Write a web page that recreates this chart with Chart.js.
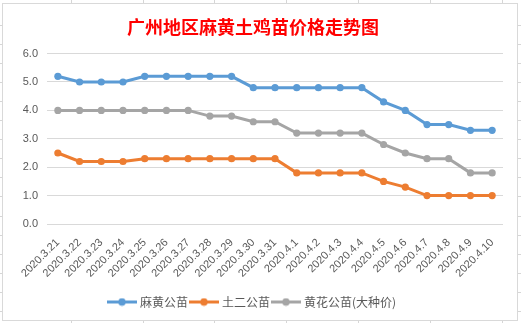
<!DOCTYPE html>
<html>
<head>
<meta charset="utf-8">
<script src="https://cdn.jsdelivr.net/npm/chart.js@4/dist/chart.umd.min.js"></script>
<style>
  html, body { margin: 0; padding: 0; }
  body { width: 521px; height: 323px; position: relative; overflow: hidden; background: #ffffff; }
  .hline { position: absolute; left: 0; width: 521px; height: 1px; background: #d6d6d6; }
  .vline { position: absolute; top: 0; width: 1px; height: 323px; background: #d6d6d6; }
  #box {
    position: absolute; left: 2px; top: 3px; width: 516px; height: 318px;
    box-sizing: border-box; border: 1px solid #d9d9d9; background: #fff;
  }
  #box canvas { display: block; }
</style>
</head>
<body>
<div id="grid"></div>
<div id="box"><canvas id="c" width="514" height="316"></canvas></div>
<script>
const categories = ['2020.3.21','2020.3.22','2020.3.23','2020.3.24','2020.3.25','2020.3.26','2020.3.27','2020.3.28','2020.3.29','2020.3.30','2020.3.31','2020.4.1','2020.4.2','2020.4.3','2020.4.4','2020.4.5','2020.4.6','2020.4.7','2020.4.8','2020.4.9','2020.4.10'];
const mahuang = [5.2,5.0,5.0,5.0,5.2,5.2,5.2,5.2,5.2,4.8,4.8,4.8,4.8,4.8,4.8,4.3,4.0,3.5,3.5,3.3,3.3];
const tuer = [2.5,2.2,2.2,2.2,2.3,2.3,2.3,2.3,2.3,2.3,2.3,1.8,1.8,1.8,1.8,1.5,1.3,1.0,1.0,1.0,1.0];
const huanghua = [4.0,4.0,4.0,4.0,4.0,4.0,4.0,3.8,3.8,3.6,3.6,3.2,3.2,3.2,3.2,2.8,2.5,2.3,2.3,1.8,1.8];
const seriesNames = ['麻黄公苗','土二公苗','黄花公苗(大种价)'];
const titleText = '广州地区麻黄土鸡苗价格走势图';
const colors = ['#5B9BD5','#ED7D31','#A5A5A5'];

// spreadsheet gridlines behind the chart
const grid = document.getElementById('grid');
[71,143,214,286,358,430,502].forEach(x => {
  const d = document.createElement('div'); d.className = 'vline'; d.style.left = x + 'px'; grid.appendChild(d);
});
for (let k = 0; k < 17; k++) {
  const d = document.createElement('div'); d.className = 'hline'; d.style.top = Math.round(25 + 19.05 * k) + 'px'; grid.appendChild(d);
}

function legendIcon(color) {
  const cv = document.createElement('canvas');
  cv.width = 30; cv.height = 9;
  const g = cv.getContext('2d');
  g.strokeStyle = color; g.lineWidth = 3;
  g.beginPath(); g.moveTo(0, 4.5); g.lineTo(30, 4.5); g.stroke();
  g.fillStyle = color; g.beginPath(); g.arc(15, 4.5, 3.8, 0, Math.PI * 2); g.fill();
  return cv;
}
const icons = colors.map(legendIcon);

const seriesData = [mahuang, tuer, huanghua];
const datasets = seriesNames.map((n, i) => ({
  label: n,
  data: seriesData[i],
  borderColor: colors[i],
  backgroundColor: colors[i],
  borderWidth: 3,
  pointRadius: 3.6,
  pointBorderWidth: 0,
  pointBackgroundColor: colors[i],
  tension: 0,
  fill: false
}));

new Chart(document.getElementById('c'), {
  type: 'line',
  data: { labels: categories, datasets },
  options: {
    responsive: false,
    animation: false,
    devicePixelRatio: 1,
    layout: { padding: { left: 0, right: 14, top: 0, bottom: 2 } },
    plugins: {
      title: {
        display: true, text: titleText, color: '#FF0000',
        font: { family: '"Noto Sans CJK SC", sans-serif', size: 18, weight: 'bold' },
        padding: { top: 12, bottom: 16 }
      },
      legend: {
        position: 'bottom',
        labels: {
          usePointStyle: true,
          pointStyleWidth: 24,
          color: '#595959',
          font: { family: '"Noto Sans CJK SC", sans-serif', size: 12 },
          padding: 4,
          generateLabels(chart) {
            const items = Chart.defaults.plugins.legend.labels.generateLabels(chart);
            items.forEach((it, i) => { it.pointStyle = icons[i]; });
            return items;
          }
        }
      },
      tooltip: { enabled: false }
    },
    scales: {
      x: {
        offset: true,
        grid: { display: false },
        border: { display: false },
        afterFit: s => { s.height = 68; },
        ticks: {
          color: '#595959', maxRotation: 45, minRotation: 45, autoSkip: false, padding: 4,
          font: { family: '"Liberation Sans", sans-serif', size: 11 }
        }
      },
      y: {
        min: 0, max: 6,
        grid: { color: '#d9d9d9', lineWidth: 1, drawTicks: false },
        border: { display: false },
        afterFit: s => { s.width = 44; },
        ticks: {
          stepSize: 1, color: '#595959', padding: 9,
          font: { family: '"Liberation Sans", sans-serif', size: 11 },
          callback: v => Number(v).toFixed(1)
        }
      }
    }
  }
});
</script>
</body>
</html>
